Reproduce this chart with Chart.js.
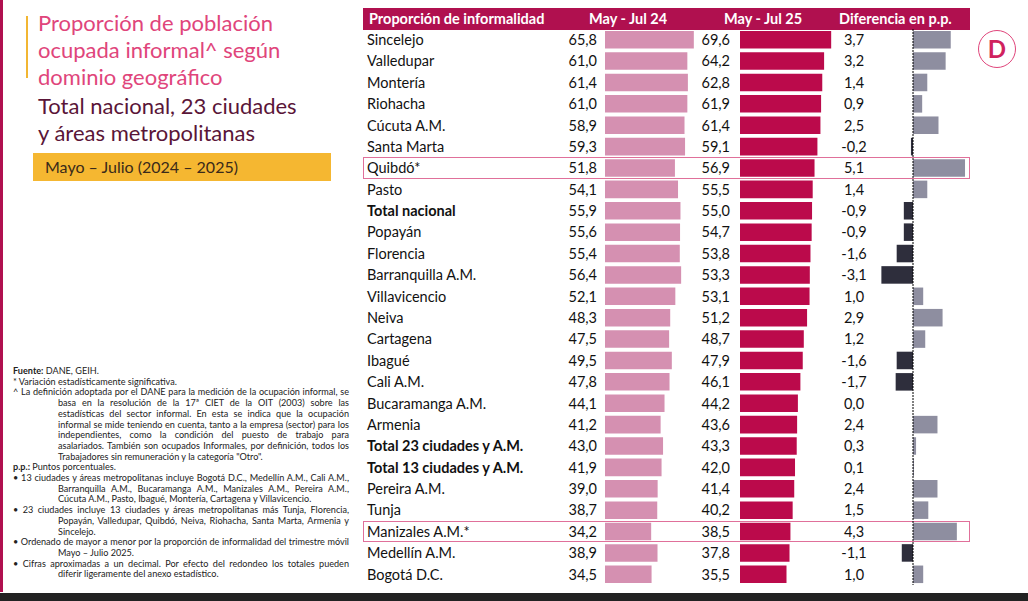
<!DOCTYPE html>
<html><head><meta charset="utf-8">
<script src="https://cdn.jsdelivr.net/npm/chart.js@4"></script>
<style>
body{margin:0;width:1028px;height:601px;background:#fff;position:relative;overflow:hidden;font-family:Lato,"Liberation Sans",sans-serif}
.abs{position:absolute}
#head{left:363px;top:8px;width:607px;height:22px;background:#b0104f;color:#fff;font-weight:bold;font-size:14.5px}
#head span{position:absolute;top:2px}
.row{position:absolute;left:363px;width:607px;height:21.4px;font-size:14.5px;color:#111}
.row span{position:absolute;top:2px}
.hl{outline:1.5px solid #e0709a;outline-offset:-1.5px}
canvas{position:absolute}
#notes{left:13px;top:366px;width:336px;font-size:9.1px;line-height:10.7px;color:#222;text-align:justify}
#notes p{margin:0;padding-left:45px;text-indent:-45px}
</style></head><body>
<div class="abs" style="left:0;top:0;width:3px;height:592px;background:#b0104f"></div>
<div class="abs" style="left:26px;top:16px;width:2px;height:62px;background:#f2b632"></div>
<div class="abs" style="left:38px;top:9px;font-size:22px;line-height:27px;color:#e0457b">Proporción de población<br>ocupada informal^ según<br>dominio geográfico</div>
<div class="abs" style="left:38px;top:92px;font-size:22px;line-height:27px;color:#5a1538">Total nacional, 23 ciudades<br>y áreas metropolitanas</div>
<div class="abs" style="left:33px;top:153px;width:298px;height:28px;background:#f5b731;font-size:16px;line-height:28px;color:#3a2a1a;padding-left:12px;box-sizing:border-box">Mayo – Julio (2024 – 2025)</div>
<div id="notes" class="abs">
<p><b>Fuente:</b> DANE, GEIH.</p>
<p>* Variación estadísticamente significativa.</p>
<p>^ La definición adoptada por el DANE para la medición de la ocupación informal, se basa en la resolución de la 17ª CIET de la OIT (2003) sobre las estadísticas del sector informal. En esta se indica que la ocupación informal se mide teniendo en cuenta, tanto a la empresa (sector) para los independientes, como la condición del puesto de trabajo para asalariados. También son ocupados Informales, por definición, todos los Trabajadores sin remuneración y la categoría "Otro".</p>
<p><b>p.p.:</b> Puntos porcentuales.</p>
<p>• 13 ciudades y áreas metropolitanas incluye Bogotá D.C., Medellín A.M., Cali A.M., Barranquilla A.M., Bucaramanga A.M., Manizales A.M., Pereira A.M., Cúcuta A.M., Pasto, Ibagué, Montería, Cartagena y Villavicencio.</p>
<p>• 23 ciudades incluye 13 ciudades y áreas metropolitanas más Tunja, Florencia, Popayán, Valledupar, Quibdó, Neiva, Riohacha, Santa Marta, Armenia y Sincelejo.</p>
<p>• Ordenado de mayor a menor por la proporción de informalidad del trimestre móvil Mayo – Julio 2025.</p>
<p>• Cifras aproximadas a un decimal. Por efecto del redondeo los totales pueden diferir ligeramente del anexo estadístico.</p>
</div>
<div class="abs" style="left:978px;top:30px;width:36px;height:36px;border-radius:50%;border:1.5px solid #e0457b;color:#d0225e;font-weight:bold;font-size:24px;text-align:center;line-height:36px">D</div>
<div class="abs" style="left:0;top:593px;width:1028px;height:8px;background:#222"></div>
<div id="head" class="abs"><span style="left:6px">Proporción de informalidad</span><span style="left:226px">May - Jul 24</span><span style="left:361px">May - Jul 25</span><span style="left:476px">Diferencia en p.p.</span></div>
<div id="rows"></div>
<canvas id="c1" style="left:605px;top:29px;width:110px;height:556px"></canvas>
<canvas id="c2" style="left:740px;top:29px;width:110px;height:556px"></canvas>
<canvas id="c3" style="left:870px;top:29px;width:100px;height:556px"></canvas>
<script>
'use strict'
const ciudades=['Sincelejo','Valledupar','Montería','Riohacha','Cúcuta A.M.','Santa Marta','Quibdó*','Pasto','Total nacional','Popayán','Florencia','Barranquilla A.M.','Villavicencio','Neiva','Cartagena','Ibagué','Cali A.M.','Bucaramanga A.M.','Armenia','Total 23 ciudades y A.M.','Total 13 ciudades y A.M.','Pereira A.M.','Tunja','Manizales A.M.*','Medellín A.M.','Bogotá D.C.'];
const may24=[65.8,61.0,61.4,61.0,58.9,59.3,51.8,54.1,55.9,55.6,55.4,56.4,52.1,48.3,47.5,49.5,47.8,44.1,41.2,43.0,41.9,39.0,38.7,34.2,38.9,34.5];
const may25=[69.6,64.2,62.8,61.9,61.4,59.1,56.9,55.5,55.0,54.7,53.8,53.3,53.1,51.2,48.7,47.9,46.1,44.2,43.6,43.3,42.0,41.4,40.2,38.5,37.8,35.5];
const dif=[3.7,3.2,1.4,0.9,2.5,-0.2,5.1,1.4,-0.9,-0.9,-1.6,-3.1,1.0,2.9,1.2,-1.6,-1.7,0.0,2.4,0.3,0.1,2.4,1.5,4.3,-1.1,1.0];
const negritas=['Total nacional','Total 23 ciudades y A.M.','Total 13 ciudades y A.M.'];
const resaltadas=['Quibdó*','Manizales A.M.*'];

const fmt=v=>v.toFixed(1).replace('.',',');
const rowH=556/ciudades.length;
let html='';
ciudades.forEach((c,i)=>{
  const b=negritas.includes(c)?'font-weight:bold;':'';
  const cls=resaltadas.includes(c)?'row hl':'row';
  html+='<div class="'+cls+'" style="top:'+(29+i*rowH)+'px;">'+
    '<span style="left:4px;'+b+'">'+c+'</span>'+
    '<span style="right:373px">'+fmt(may24[i])+'</span>'+
    '<span style="right:240px">'+fmt(may25[i])+'</span>'+
    '<span style="left:471px;width:40px;text-align:center">'+fmt(dif[i])+'</span></div>';
});
document.getElementById('rows').innerHTML=html;

const zeroLine={id:'zeroLine',afterDatasetsDraw(chart){
  const x=chart.scales.x.getPixelForValue(0),ctx=chart.ctx;
  ctx.save();ctx.strokeStyle='#000';ctx.lineWidth=1;ctx.setLineDash([2,1]);
  ctx.beginPath();ctx.moveTo(x,0);ctx.lineTo(x,chart.height);ctx.stroke();ctx.restore();
}};

function barras(id,data,color,min,max,plugins){
  new Chart(document.getElementById(id),{
    type:'bar',
    data:{labels:ciudades,datasets:[{data:data,backgroundColor:color,barPercentage:0.82,categoryPercentage:1}]},
    options:{indexAxis:'y',responsive:false,animation:false,layout:{padding:0},
      plugins:{legend:{display:false},tooltip:{enabled:false}},
      scales:{x:{display:false,min:min,max:max},y:{display:false}}},
    plugins:plugins||[]
  });
}
barras('c1',may24,'#d590b1',0,110/1.35);
barras('c2',may25,'#bb0a4b',0,110/1.31);
barras('c3',dif,dif.map(v=>v<0?'#2e2e3c':'#8e8ea0'),-43/10.2,57/10.2,[zeroLine]);
</script>
</body></html>
